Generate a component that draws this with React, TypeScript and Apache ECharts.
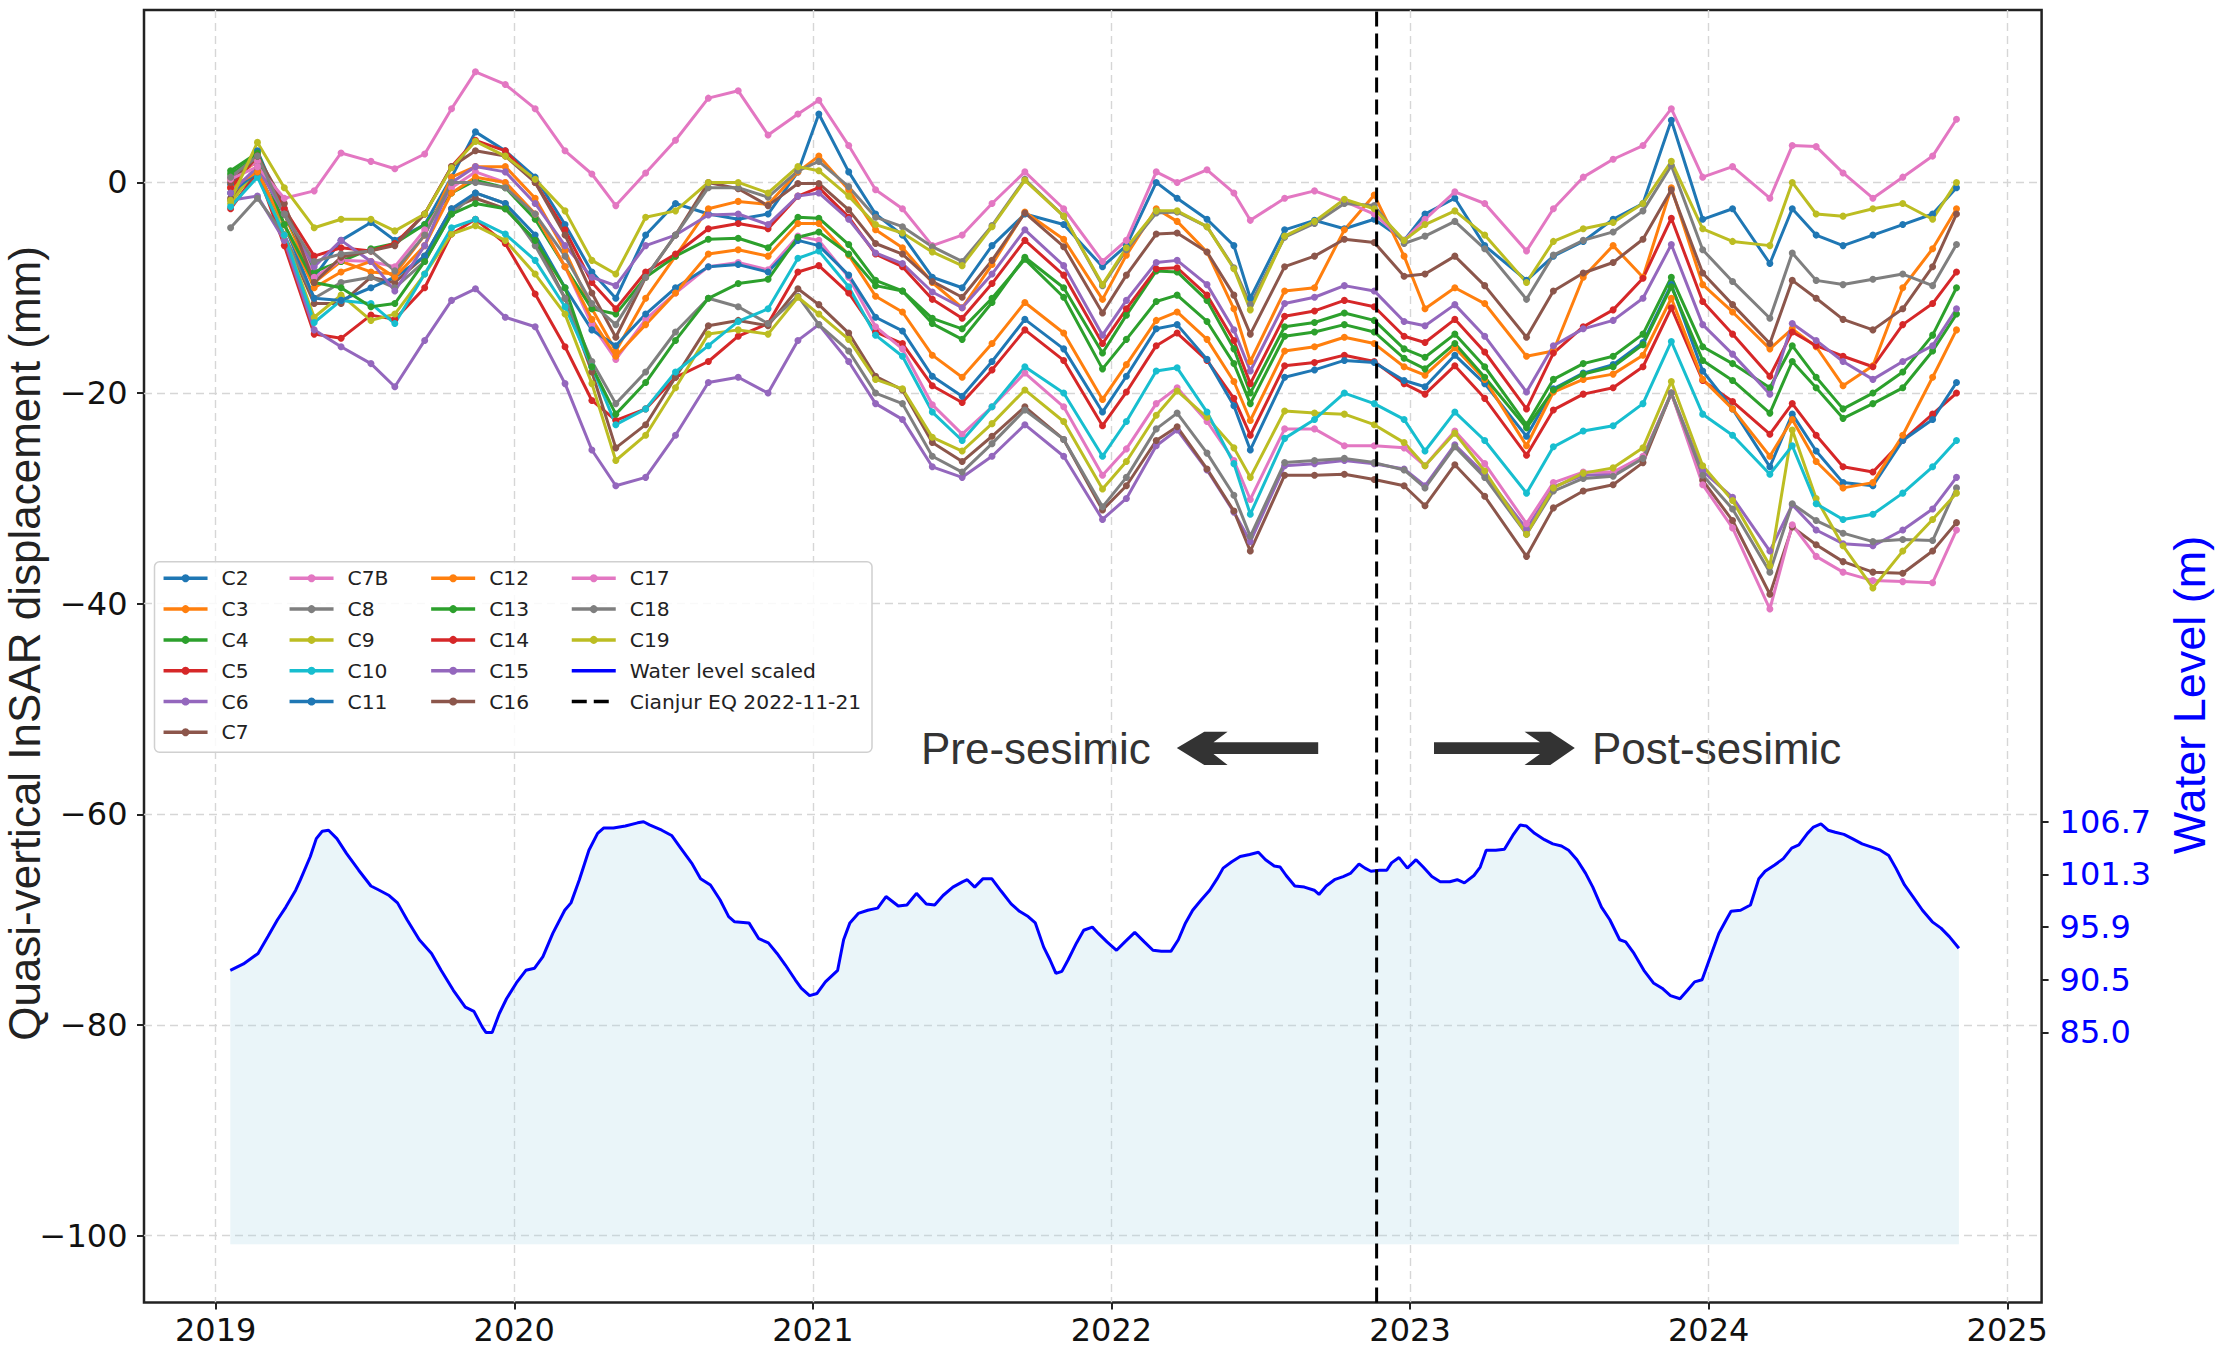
import React, { useEffect, useRef } from 'react';
import * as echarts from 'echarts';

// ---------- axes ----------
const X_MIN = 2018.76;
const X_MAX = 2025.115;
const Y_MIN = -106.34;
const Y_MAX = 16.37;
const X_TICKS = [2019, 2020, 2021, 2022, 2023, 2024, 2025];
const Y_TICKS = [-100, -80, -60, -40, -20, 0];
const WL_TICK_POS = [-80.7, -75.7, -70.7, -65.7, -60.7];
const WL_TICK_LABELS = ['85.0', '90.5', '95.9', '101.3', '106.7'];
const EQ_YEAR = 2022.888;
const WL_FILL_BASE = -100.8;

// ---------- displacement epochs (decimal year) ----------
const T = [2019.05, 2019.14, 2019.23, 2019.33, 2019.42, 2019.52, 2019.60, 2019.70, 2019.79, 2019.87,
  2019.97, 2020.07, 2020.17, 2020.26, 2020.34, 2020.44, 2020.54, 2020.65, 2020.75, 2020.85, 2020.95,
  2021.02, 2021.12, 2021.21, 2021.30, 2021.40, 2021.50, 2021.60, 2021.71, 2021.84, 2021.97,
  2022.05, 2022.15, 2022.22, 2022.32, 2022.41, 2022.465, 2022.58, 2022.68, 2022.78, 2022.88, 2022.98,
  2023.05, 2023.15, 2023.25, 2023.39, 2023.48, 2023.58, 2023.68, 2023.78, 2023.875, 2023.98,
  2024.08, 2024.205, 2024.28, 2024.36, 2024.45, 2024.55, 2024.65, 2024.75, 2024.83];

const C2 = [-0.2, 3.0, -3, -9, -5.5, -3.8, -5.5, -4, 0.5, 4.8, 3, 0.5, -4, -8.5, -11, -5, -2,
  -3, -3.5, -3, 1, 6.5, 1, -3, -5, -9, -10, -6, -3, -4, -8, -6, 0, -1.5, -3.5, -6, -11, -4.5, -3.6, -4.4, -3.5, -5.5, -3, -1.5, -6, -9.3, -7, -5.6, -3.5, -2, 5.9, -3.5, -2.5, -7.7, -2.5, -5, -6, -5, -4, -3, -0.5];
const C3 = [0.3, 2.0, -3, -9.5, -7.5, -8.5, -8.7, -5, 0.5, 1.5, 1.5, -1.5, -6.5, -12, -16, -11, -7,
  -2.5, -1.8, -2.1, 1.0, 2.5, -0.7, -4.5, -6.2, -9.5, -11.9, -7.8, -2.8, -5.4, -11.1, -6.9, -2.5, -3.7, -6.6, -12.0, -17.0, -10.3, -10, -4.5, -1.2, -7, -12, -10, -11.5, -16.5, -16, -9, -6, -9, -0.5, -9.7, -12.3, -15.8, -13.9, -15.6, -19.3, -17.4, -10, -6.3, -2.5];
const C4 = [1.1, 2.8, -3, -8.5, -7.5, -6.3, -5.8, -4, -1, 0.2, -0.5, -3.5, -8, -12, -12.5, -9, -7,
  -5.4, -5.3, -6.2, -3.3, -3.4, -5.9, -9.3, -10.3, -13.4, -14.9, -11.4, -7.1, -10.0, -16.2, -12.6, -8.4, -8.5, -11.2, -15.8, -20.0, -13.7, -13.3, -12.4, -13.1, -15.8, -16.6, -14.4, -17.5, -23.0, -18.7, -17.2, -16.5, -14.4, -9.0, -15.6, -17.2, -19.5, -15.5, -18.5, -21.5, -20, -18, -14.5, -10];
const C5 = [-2.5, 1.0, -6, -14.4, -14.8, -12.6, -13, -10, -4.9, -3.5, -5.8, -10.6, -15.6, -20.7, -22.6, -21.5, -18.5,
  -17.0, -14.6, -13.4, -8.5, -7.9, -10.5, -14.2, -15.3, -19.3, -20.9, -17.8, -14.0, -16.9, -23.1, -19.9, -15.5, -14.3, -16.9, -20.5, -24.0, -17.4, -17.1, -16.4, -17.0, -19.1, -20.1, -17.4, -20.5, -25.9, -21.6, -20.1, -19.5, -17.5, -11.9, -18.8, -20.8, -23.9, -21, -24, -27, -27.5, -24.5, -22, -20];
const C6 = [-1.7, -1.3, -5.5, -14, -15.6, -17.2, -19.4, -15, -11.2, -10.1, -12.8, -13.7, -19.1, -25.4, -28.8, -28, -24,
  -19, -18.5, -20, -15, -13.5, -17, -21, -22.5, -27, -28, -26, -23, -26, -32, -30, -25, -23.5, -27.3, -31.3, -34.1, -26.9, -26.7, -26.4, -26.7, -27.2, -28.8, -24.9, -27.7, -32.9, -28.9, -27.8, -27.7, -26.1, -20, -27.4, -29.9, -35, -30.6, -33, -34.3, -34.5, -33, -31, -28];
const C7 = [-1.5, 1, -5, -11.5, -11.5, -9, -9.5, -7, -2.5, -1.5, -2.5, -5.5, -11, -18, -25.2, -23, -18.5,
  -13.6, -13.1, -13.6, -10.1, -11.6, -14.3, -18.4, -19.7, -24.7, -26.5, -24.1, -21.3, -24.4, -31.1, -28.8, -24.5, -23.2, -27.2, -31.2, -35.0, -27.8, -27.8, -27.7, -28.2, -28.8, -30.7, -26.8, -29.8, -35.5, -30.9, -29.3, -28.7, -26.6, -20.0, -28.3, -32.1, -39.1, -32.7, -34.4, -36.0, -37.0, -37.1, -35, -32.3];
const C7B = [0.5, 2.0, -2.5, -9, -7.4, -7.5, -8, -4.5, -0.5, 1.0, 0, -3, -8, -13.5, -16.8, -13, -10.5,
  -8.0, -7.6, -8.3, -5.1, -5.5, -9.0, -13.7, -15.8, -21.1, -23.9, -21.3, -18.1, -21.3, -27.8, -25.3, -21.0, -19.5, -22.7, -26.4, -30.1, -23.4, -23.4, -25, -25, -25.2, -26.9, -23.6, -26.7, -32.4, -28.5, -27.5, -27.5, -26.0, -20.0, -28.7, -32.8, -40.5, -32.5, -35.5, -37, -37.8, -37.9, -38, -33];
const C8 = [-4.3, -1.5, -5, -11, -9.5, -9, -10, -7.5, -3, -1.0, -2, -6, -11, -17, -21, -18, -14.2,
  -11.0, -11.8, -13.4, -10.8, -13.5, -16, -20, -21, -26, -27.5, -24.8, -21.6, -24.4, -30.8, -28.0, -23.4, -21.9, -25.7, -29.7, -33.6, -26.6, -26.4, -26.2, -26.6, -27.3, -29.0, -25.1, -28.0, -33.4, -29.3, -28.1, -27.9, -26.2, -20.0, -27.8, -31.0, -37.0, -30.5, -32.1, -33.3, -34.1, -33.9, -34.0, -29.0];
const C9 = [-2, 1.5, -5, -12.8, -10.7, -13.1, -12.5, -8.7, -4.9, -4.1, -5.5, -8.7, -12.5, -19.1, -26.4, -24, -19.5,
  -14.4, -14.0, -14.4, -10.9, -12.5, -14.9, -18.7, -19.6, -24.2, -25.5, -22.9, -19.7, -22.7, -29.1, -26.5, -22.1, -19.8, -22.3, -25.2, -28.0, -21.7, -21.9, -22.0, -23.0, -24.7, -26.9, -23.8, -27.4, -33.4, -29.0, -27.6, -27.1, -25.2, -18.9, -26.9, -30.2, -36.4, -23.5, -30, -34.5, -38.5, -35, -32, -29.5];
const C10 = [-2.3, 0.5, -5, -13.3, -11.2, -11.5, -13.4, -8.7, -4.3, -3.5, -4.9, -7.4, -11.8, -17.5, -23, -21.5, -18,
  -15.5, -13.2, -12.0, -7.2, -6.5, -9.9, -14.5, -16.5, -21.8, -24.5, -21.3, -17.5, -20.0, -26.0, -22.7, -17.9, -17.6, -21.8, -26.7, -31.5, -24.3, -22.5, -20, -21, -22.5, -25.5, -21.8, -24.5, -29.5, -25.1, -23.6, -23.1, -21.0, -15.1, -22.0, -24.0, -27.7, -25, -30.5, -32, -31.5, -29.5, -27, -24.5];
const C11 = [-1, 1, -4, -11, -11.2, -10, -9, -7, -2.5, -1, -2, -5, -10, -14, -15.5, -12.5, -10,
  -8.0, -7.8, -8.5, -5.5, -6.0, -8.8, -12.8, -14.1, -18.4, -20.3, -17.0, -13.0, -15.8, -21.8, -18.4, -13.9, -13.5, -16.8, -21.2, -25.4, -18.5, -17.8, -16.9, -17.1, -18.8, -19.4, -16.4, -19.1, -24.1, -19.6, -18.1, -17.3, -15.2, -9.7, -17.9, -21.5, -27.0, -22, -25.5, -28.5, -28.8, -24.5, -22.5, -19];
const C12 = [-0.5, 1, -4, -10, -8.5, -7.5, -9, -6, -1, 0.5, 0, -3, -8, -13, -16.5, -13.5, -10.5,
  -6.8, -6.4, -7.0, -3.9, -3.9, -6.9, -10.8, -12.3, -16.4, -18.5, -15.3, -11.4, -14.3, -20.6, -17.3, -13.1, -12.3, -14.9, -18.9, -22.6, -16.0, -15.6, -14.7, -15.3, -17.5, -18.3, -15.7, -18.7, -25.0, -19.9, -18.7, -18.2, -16.4, -11.0, -18.7, -21.5, -26.0, -22.5, -26.5, -29, -28.5, -24, -18.5, -14];
const C13 = [0.8, 2.5, -4, -9.5, -10, -11.8, -11.5, -7.5, -3, -2, -2.5, -5.5, -10, -17.5, -22, -19, -15,
  -11.0, -9.6, -9.2, -5.2, -4.7, -6.8, -9.8, -10.3, -12.9, -13.9, -11.0, -7.3, -10.9, -17.7, -14.9, -11.3, -10.7, -13.2, -17.2, -21.0, -14.6, -14.2, -13.5, -14.2, -16.7, -17.7, -15.3, -18.5, -23.3, -19.7, -18.2, -17.5, -15.4, -9.9, -16.9, -18.8, -21.9, -17, -19.5, -22.4, -21, -19.5, -16, -12.5];
const C14 = [-0.5, 2.5, -2.5, -7, -6.2, -6.5, -5.8, -3, 1.5, 4.0, 3, 0, -4.5, -9.5, -12, -8.5, -6.8,
  -4.4, -3.9, -4.4, -1.3, -0.5, -3.3, -6.8, -8.0, -11.1, -12.9, -9.6, -5.5, -8.8, -15.3, -12.0, -8.2, -8.1, -10.7, -15.0, -19.1, -12.7, -12.2, -11.2, -11.8, -14.6, -15.2, -13.0, -16.1, -21.5, -16.2, -13.7, -12.1, -9.1, -3.4, -11.3, -14.4, -18.4, -14.2, -15.5, -16.5, -17.5, -13.5, -11.5, -8.5];
const C15 = [-1, 1.5, -3, -8, -5.5, -7.5, -10.3, -6, 0, 1.5, 1, -2, -6, -9, -9.8, -6, -5,
  -3.1, -3.0, -4.0, -1.3, -1.0, -3.5, -6.7, -7.7, -10.4, -11.9, -8.7, -4.5, -7.9, -14.5, -11.2, -7.6, -7.4, -9.7, -14.0, -17.9, -11.5, -10.9, -9.8, -10.3, -13.2, -13.6, -11.6, -14.6, -19.9, -15.5, -13.9, -13.1, -11.0, -5.9, -13.5, -16.3, -20.1, -13.4, -15, -17, -18.7, -17, -15.5, -12];
const C16 = [0, 2.5, -2, -9.5, -7.1, -6.5, -6, -3, 1.5, 3, 2.5, 0, -5, -10.5, -14.7, -9, -5,
  0, -0.6, -2.2, -0.1, -0.1, -2.6, -5.8, -6.8, -9.4, -10.9, -7.4, -2.9, -6.1, -12.4, -8.8, -4.9, -4.8, -6.6, -10.7, -14.4, -8.0, -7.0, -5.4, -5.7, -8.9, -8.7, -7.0, -9.8, -14.7, -10.3, -8.6, -7.6, -5.4, -0.7, -8.6, -11.6, -15.3, -9.3, -11, -13, -14, -12, -8, -3];
const C17 = [0.3, 1.5, -1.5, -0.8, 2.8, 2.0, 1.3, 2.7, 7.0, 10.5, 9.3, 7.0, 3.0, 0.8, -2.2, 0.9, 4.0,
  8.0, 8.7, 4.5, 6.5, 7.8, 3.5, -0.7, -2.5, -6, -5, -2, 1.0, -2.5, -7.5, -5.5, 1, 0, 1.2, -1, -3.6, -1.5, -0.8, -1.8, -3, -5.5, -3.5, -0.9, -2, -6.5, -2.5, 0.5, 2.2, 3.5, 7, 0.5, 1.5, -1.5, 3.5, 3.4, 0.9, -1.5, 0.5, 2.5, 6];
const C18 = [0.5, 2.5, -3, -7.5, -6.8, -6.5, -8.4, -5, 0, 0, -0.5, -3, -7, -11.5, -13.5, -9, -5,
  -0.5, -0.5, -1.4, 1.1, 2.0, -0.4, -3.3, -4.2, -6.1, -7.5, -4.1, 0.3, -3.2, -9.8, -6.4, -2.9, -2.8, -4.2, -8.1, -11.6, -5.2, -3.9, -2.0, -2.2, -5.8, -5.1, -3.7, -6.3, -11.1, -6.9, -5.5, -4.7, -2.7, 1.6, -6.4, -9.4, -12.9, -6.7, -9.3, -9.7, -9.2, -8.7, -9.8, -5.9];
const C19 = [-1.7, 3.8, -0.5, -4.3, -3.5, -3.5, -4.6, -3.0, 1.4, 3.9, 2.5, 0.3, -2.7, -7.4, -8.7, -3.3, -2.7,
  0, 0, -1, 1.5, 1.1, -1.3, -4, -4.8, -6.6, -7.9, -4.2, 0.2, -3.2, -9.7, -6.2, -2.7, -2.7, -4.2, -8.2, -12.1, -5.1, -3.7, -1.6, -2.5, -5.5, -4, -2.7, -5, -9.5, -5.6, -4.4, -3.8, -2, 2, -4.4, -5.6, -6, 0, -3, -3.2, -2.5, -2, -3.5, 0];

const SERIES_NAMES = ['C2', 'C3', 'C4', 'C5', 'C6', 'C7', 'C7B', 'C8', 'C9', 'C10', 'C11', 'C12', 'C13', 'C14', 'C15', 'C16', 'C17', 'C18', 'C19'];
const SERIES_VALUES = [C2, C3, C4, C5, C6, C7, C7B, C8, C9, C10, C11, C12, C13, C14, C15, C16, C17, C18, C19];
const SERIES_COLORS = ['#1f77b4', '#ff7f0e', '#2ca02c', '#d62728', '#9467bd', '#8c564b', '#e377c2', '#7f7f7f', '#bcbd22', '#17becf',
  '#1f77b4', '#ff7f0e', '#2ca02c', '#d62728', '#9467bd', '#8c564b', '#e377c2', '#7f7f7f', '#bcbd22'];

// ---------- water level (scaled onto the displacement axis) ----------
const WL_YEARS = [2019.049, 2019.093, 2019.142, 2019.175, 2019.207, 2019.235, 2019.268, 2019.284, 2019.317, 2019.337, 2019.357, 2019.378, 2019.406, 2019.438, 2019.479, 2019.520, 2019.548, 2019.581, 2019.609, 2019.641, 2019.682, 2019.723, 2019.755, 2019.796, 2019.836, 2019.865, 2019.893, 2019.905, 2019.926, 2019.950, 2019.974,
  2020.007, 2020.039, 2020.068, 2020.096, 2020.129, 2020.169, 2020.190, 2020.218, 2020.250, 2020.279, 2020.299, 2020.332, 2020.372, 2020.413, 2020.433, 2020.453, 2020.494, 2020.527, 2020.555, 2020.596, 2020.624, 2020.657, 2020.689, 2020.718, 2020.738, 2020.786, 2020.819, 2020.851, 2020.880, 2020.908, 2020.941, 2020.961, 2020.989,
  2021.014, 2021.042, 2021.083, 2021.103, 2021.124, 2021.152, 2021.184, 2021.217, 2021.245, 2021.286, 2021.315, 2021.347, 2021.380, 2021.408, 2021.436, 2021.469, 2021.501, 2021.517, 2021.542, 2021.570, 2021.599, 2021.631, 2021.664, 2021.692, 2021.721, 2021.745, 2021.773, 2021.794, 2021.814, 2021.834, 2021.855, 2021.883, 2021.907, 2021.936, 2021.956, 2021.985,
  2022.017, 2022.045, 2022.078, 2022.110, 2022.139, 2022.167, 2022.199, 2022.224, 2022.248, 2022.272, 2022.301, 2022.329, 2022.354, 2022.374, 2022.403, 2022.431, 2022.463, 2022.492, 2022.516, 2022.545, 2022.565, 2022.585, 2022.614, 2022.646, 2022.679, 2022.695, 2022.719, 2022.747, 2022.776, 2022.800, 2022.829, 2022.849, 2022.869, 2022.898, 2022.922, 2022.938, 2022.963, 2022.991,
  2023.020, 2023.044, 2023.073, 2023.101, 2023.133, 2023.158, 2023.182, 2023.214, 2023.235, 2023.255, 2023.287, 2023.316, 2023.344, 2023.369, 2023.389, 2023.417, 2023.450, 2023.478, 2023.507, 2023.531, 2023.559, 2023.588, 2023.612, 2023.641, 2023.669, 2023.702, 2023.722, 2023.750, 2023.783, 2023.815, 2023.844, 2023.872, 2023.904, 2023.929, 2023.953, 2023.978,
  2024.006, 2024.034, 2024.059, 2024.075, 2024.107, 2024.140, 2024.168, 2024.189, 2024.221, 2024.250, 2024.278, 2024.302, 2024.331, 2024.351, 2024.376, 2024.400, 2024.424, 2024.453, 2024.481, 2024.514, 2024.546, 2024.575, 2024.603, 2024.627, 2024.656, 2024.684, 2024.716, 2024.749, 2024.778, 2024.806, 2024.838];
const WL_SCALED = [-74.8, -74.2, -73.2, -71.6, -70.0, -68.8, -67.2, -66.2, -64.0, -62.3, -61.6, -61.5, -62.3, -63.7, -65.3, -66.8, -67.2, -67.7, -68.4, -70.0, -71.9, -73.2, -74.8, -76.7, -78.3, -78.7, -80.2, -80.7, -80.7, -78.9, -77.5,
  -76.0, -74.8, -74.6, -73.5, -71.3, -69.1, -68.4, -66.2, -63.4, -61.8, -61.3, -61.3, -61.1, -60.8, -60.7, -61.0, -61.5, -62.0, -63.1, -64.7, -66.1, -66.7, -68.1, -69.7, -70.2, -70.3, -71.8, -72.2, -73.2, -74.3, -75.7, -76.5, -77.2,
  -77.0, -75.9, -74.8, -71.9, -70.3, -69.4, -69.1, -68.9, -67.8, -68.7, -68.6, -67.5, -68.5, -68.6, -67.7, -66.9, -66.4, -66.2, -66.9, -66.1, -66.1, -67.3, -68.5, -69.2, -69.7, -70.3, -72.6, -73.8, -75.1, -74.9, -73.8, -72.2, -71.0, -70.7, -71.3, -72.1,
  -72.9, -72.1, -71.2, -72.1, -72.9, -73.0, -73.0, -71.9, -70.3, -69.1, -68.1, -67.2, -66.1, -65.1, -64.5, -64.0, -63.8, -63.6, -64.3, -64.9, -65.0, -65.8, -66.8, -66.9, -67.2, -67.6, -66.8, -66.2, -65.9, -65.6, -64.7, -65.1, -65.4, -65.3, -65.3, -64.6, -64.1, -65.1,
  -64.3, -65.0, -65.9, -66.4, -66.4, -66.2, -66.5, -65.8, -65.0, -63.4, -63.4, -63.3, -62.0, -61.0, -61.1, -61.8, -62.4, -62.8, -63.0, -63.4, -64.3, -65.6, -66.9, -68.8, -70.0, -71.9, -72.1, -73.2, -74.8, -76.0, -76.5, -77.2, -77.5, -76.7, -75.9, -75.7,
  -73.5, -71.3, -70.0, -69.2, -69.1, -68.6, -66.1, -65.4, -64.8, -64.2, -63.2, -62.9, -61.8, -61.2, -60.9, -61.5, -61.7, -61.9, -62.3, -62.8, -63.1, -63.4, -63.9, -65.1, -66.7, -67.8, -69.1, -70.2, -70.8, -71.6, -72.7];

// ---------- legend columns ----------
const LEGEND_COLS = [
  ['C2', 'C3', 'C4', 'C5', 'C6', 'C7'],
  ['C7B', 'C8', 'C9', 'C10', 'C11'],
  ['C12', 'C13', 'C14', 'C15', 'C16'],
  ['C17', 'C18', 'C19', 'Water level scaled', 'Cianjur EQ 2022-11-21'],
];
const LEGEND_LEFT = [161.8, 287.8, 429.4, 570];
const NO_MARKER_NAMES = ['Water level scaled', 'Cianjur EQ 2022-11-21'];

const TICK_FONT = 'DejaVu Sans';
const LABEL_FONT = 'Liberation Sans';

function minusFmt(v: number) {
  return v < 0 ? '\u2212' + Math.abs(v) : String(v);
}

export default function App() {
  const ref = useRef<HTMLDivElement>(null);

  useEffect(() => {
    document.body.style.margin = '0';
    const chart = echarts.init(ref.current as HTMLDivElement, undefined, { renderer: 'svg' });

    const dispSeries = SERIES_NAMES.map((name, k) => ({
      name,
      type: 'line',
      data: T.map((t, i) => [t, SERIES_VALUES[k][i]]),
      symbol: 'circle',
      symbolSize: 7,
      showSymbol: true,
      lineStyle: { color: SERIES_COLORS[k], width: 3 },
      itemStyle: { color: SERIES_COLORS[k] },
      z: 3,
      silent: true,
    }));

    const waterSeries = {
      name: 'Water level scaled',
      type: 'line',
      data: WL_YEARS.map((t, i) => [t, WL_SCALED[i]]),
      symbol: 'none',
      showSymbol: false,
      lineStyle: { color: '#0000ff', width: 3 },
      itemStyle: { color: '#0000ff' },
      areaStyle: { color: 'rgba(173,216,230,0.36)', origin: WL_FILL_BASE },
      z: 2,
      silent: true,
    };

    const eqSeries = {
      name: 'Cianjur EQ 2022-11-21',
      type: 'line',
      data: [[EQ_YEAR, Y_MIN], [EQ_YEAR, Y_MAX]],
      symbol: 'none',
      showSymbol: false,
      lineStyle: { color: '#000000', width: 3, type: [15, 7] },
      itemStyle: { color: '#000000' },
      z: 4,
      silent: true,
    };

    const legends = LEGEND_COLS.map((names, c) => ({
      orient: 'vertical',
      left: LEGEND_LEFT[c],
      top: 568.3,
      padding: 0,
      itemWidth: 44,
      itemHeight: 10,
      itemGap: 10.8,
      selectedMode: false,
      data: names.map((n) => (NO_MARKER_NAMES.indexOf(n) >= 0 ? { name: n, itemStyle: { opacity: 0 } } : { name: n })),
      lineStyle: { width: 3.5 },
      textStyle: { fontFamily: TICK_FONT, fontSize: 20.3, color: '#222', lineHeight: 20, padding: [0, 0, 0, 9] },
      z: 5,
    }));

    const option: any = {
      animation: false,
      backgroundColor: '#ffffff',
      textStyle: { fontFamily: TICK_FONT },
      grid: { left: 144, right: 176.4, top: 10, bottom: 49.5, show: true, borderColor: '#222', borderWidth: 2.5, backgroundColor: 'transparent' },
      xAxis: {
        type: 'value', min: X_MIN, max: X_MAX,
        axisLine: { show: false, onZero: false },
        axisTick: { show: true, length: 7, lineStyle: { color: '#222', width: 2 }, customValues: X_TICKS },
        axisLabel: { customValues: X_TICKS, formatter: (v: number) => String(v), fontSize: 32, fontFamily: TICK_FONT, color: '#111', margin: 11 },
        splitLine: { show: true, lineStyle: { color: '#d6d6d6', width: 1.4, type: [8, 5] } },
      },
      yAxis: [
        {
          type: 'value', min: Y_MIN, max: Y_MAX, position: 'left',
          axisLine: { show: false, onZero: false },
          axisTick: { show: true, length: 7, lineStyle: { color: '#222', width: 2 }, customValues: Y_TICKS },
          axisLabel: { customValues: Y_TICKS, formatter: minusFmt, fontSize: 32, fontFamily: TICK_FONT, color: '#111', margin: 16.5 },
          splitLine: { show: true, lineStyle: { color: '#d6d6d6', width: 1.4, type: [8, 5] } },
        },
        {
          type: 'value', min: Y_MIN, max: Y_MAX, position: 'right',
          axisLine: { show: false, onZero: false },
          axisTick: { show: true, length: 7, lineStyle: { color: '#222', width: 2 }, customValues: WL_TICK_POS },
          axisLabel: {
            customValues: WL_TICK_POS,
            formatter: (v: number) => {
              const i = WL_TICK_POS.findIndex((p) => Math.abs(p - v) < 0.05);
              return i >= 0 ? WL_TICK_LABELS[i] : '';
            },
            fontSize: 32, fontFamily: TICK_FONT, color: '#0000ff', margin: 18,
          },
          splitLine: { show: false },
        },
      ],
      legend: legends,
      series: [...dispSeries, waterSeries, eqSeries],
      graphic: [
        {
          type: 'rect', z: 3, silent: true,
          shape: { x: 154.5, y: 561.7, width: 717.5, height: 190.6, r: 5 },
          style: { fill: 'rgba(255,255,255,0.85)', stroke: '#d0d0d0', lineWidth: 1.5 },
        },
        {
          type: 'text', x: 24.5, y: 643.5, rotation: Math.PI / 2, silent: true,
          style: { text: 'Quasi-vertical InSAR displacement (mm)', fontFamily: LABEL_FONT, fontSize: 44, fill: '#222', align: 'center', verticalAlign: 'middle' },
        },
        {
          type: 'text', x: 2189, y: 695, rotation: Math.PI / 2, silent: true,
          style: { text: 'Water Level (m)', fontFamily: LABEL_FONT, fontSize: 45, fill: '#0000ff', align: 'center', verticalAlign: 'middle' },
        },
        {
          type: 'text', x: 921, y: 748, silent: true,
          style: { text: 'Pre-sesimic', fontFamily: LABEL_FONT, fontSize: 44, fill: '#333', align: 'left', verticalAlign: 'middle' },
        },
        {
          type: 'text', x: 1592, y: 748, silent: true,
          style: { text: 'Post-sesimic', fontFamily: LABEL_FONT, fontSize: 44, fill: '#333', align: 'left', verticalAlign: 'middle' },
        },
        {
          type: 'polygon', silent: true,
          shape: { points: [[1176.8, 748], [1204.3, 731.7], [1227.6, 731.7], [1213.5, 742.3], [1318.2, 742.3], [1318.2, 754], [1213.5, 754], [1227.6, 765], [1204.3, 765]] },
          style: { fill: '#333' },
        },
        {
          type: 'polygon', silent: true,
          shape: { points: [[1574.8, 748], [1550.3, 731.7], [1524.6, 731.7], [1540, 742.3], [1434, 742.3], [1434, 754], [1540, 754], [1524.6, 765], [1550.3, 765]] },
          style: { fill: '#333' },
        },
      ],
    };

    chart.setOption(option);
    return () => chart.dispose();
  }, []);

  return <div ref={ref} style={{ position: 'fixed', left: 0, top: 0, width: 2218, height: 1352, background: '#ffffff' }} />;
}
